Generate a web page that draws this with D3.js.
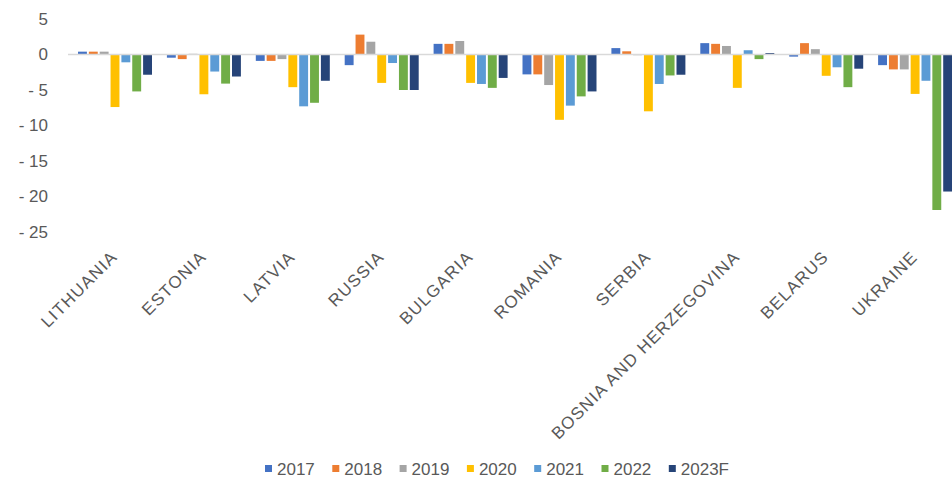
<!DOCTYPE html>
<html>
<head>
<meta charset="utf-8">
<script src="https://cdn.jsdelivr.net/npm/d3@7"></script>
<style>
  html, body { margin: 0; padding: 0; background: #fff; }
  svg { display: block; font-family: "Liberation Sans", Arial, sans-serif; }
</style>
</head>
<body>
<svg id="chart" width="952" height="479"></svg>
<script>
// Countries along the x axis
const countries = ["LITHUANIA", "ESTONIA", "LATVIA", "RUSSIA", "BULGARIA", "ROMANIA",
  "SERBIA", "BOSNIA AND HERZEGOVINA", "BELARUS", "UKRAINE"];

// Years in the legend
const years = ["2017", "2018", "2019", "2020", "2021", "2022", "2023F"];

// One value per country for each year
const v2017  = [0.4, -0.45, -0.9, -1.5, 1.5, -2.8, 0.9, 1.6, -0.3, -1.5];
const v2018  = [0.4, -0.65, -0.9, 2.8, 1.5, -2.8, 0.45, 1.5, 1.6, -2.1];
const v2019  = [0.4, 0.1, -0.65, 1.8, 1.9, -4.3, -0.1, 1.2, 0.75, -2.1];
const v2020  = [-7.4, -5.6, -4.6, -4.0, -4.0, -9.2, -8.0, -4.7, -3.0, -5.55];
const v2021  = [-1.1, -2.4, -7.3, -1.2, -4.15, -7.2, -4.15, 0.6, -1.8, -3.7];
const v2022  = [-5.2, -4.1, -6.8, -5.0, -4.7, -5.9, -2.95, -0.65, -4.6, -21.9];
const v2023F = [-2.85, -3.1, -3.7, -5.0, -3.3, -5.2, -2.85, 0.2, -2.0, -19.3];

const series = [v2017, v2018, v2019, v2020, v2021, v2022, v2023F];
const colors = ["#4472c4", "#ed7d31", "#a5a5a5", "#ffc000", "#5b9bd5", "#70ad47", "#264478"];

// Y axis tick values and their printed labels
const tickValues = [5, 0, -5, -10, -15, -20, -25];
const tickLabels = ["5", "0", "- 5", "- 10", "- 15", "- 20", "- 25"];

const svg = d3.select("#chart");
const textColor = "#595959";

const x0 = d3.scaleBand().domain(countries).range([70, 959]).paddingInner(0).paddingOuter(0);
const x1 = d3.scaleBand().domain(years).range([8, 82]).paddingInner(0.18);
const y = d3.scaleLinear().domain([-25, 5]).range([232, 19]);

// Y axis labels
const yAxis = d3.axisLeft(y).tickValues(tickValues)
  .tickFormat((d, i) => tickLabels[i]).tickSize(0).tickPadding(0);
const yg = svg.append("g").attr("transform", "translate(48,0)").call(yAxis);
yg.select(".domain").remove();
yg.selectAll("text").attr("fill", textColor).style("font-size", "17px")
  .style("font-family", "'Liberation Sans', Arial, sans-serif");

// Bars
const groups = svg.append("g").selectAll("g")
  .data(countries)
  .join("g")
  .attr("transform", d => `translate(${x0(d)},0)`);

groups.selectAll("rect")
  .data((c, ci) => years.map((yr, si) => ({ yr, si, v: series[si][ci] })))
  .join("rect")
  .attr("x", d => x1(d.yr))
  .attr("width", x1.bandwidth())
  .attr("y", d => Math.min(y(d.v), y(0)))
  .attr("height", d => Math.abs(y(d.v) - y(0)))
  .attr("fill", d => colors[d.si]);

// Zero line
svg.append("line")
  .attr("x1", 68).attr("x2", 952)
  .attr("y1", y(0)).attr("y2", y(0))
  .attr("stroke", "#d9d9d9").attr("stroke-width", 1.5);

// Category labels, rotated
svg.append("g").selectAll("text")
  .data(countries)
  .join("text")
  .attr("transform", d => `translate(${x0(d) + x0.bandwidth() / 2 + 4},${258}) rotate(-45)`)
  .attr("text-anchor", "end")
  .attr("fill", textColor)
  .style("font-size", "17px")
  .style("letter-spacing", "1.2px")
  .text(d => d);

// Legend
const legend = svg.append("g").attr("transform", "translate(265,0)");
const items = legend.selectAll("g")
  .data(years)
  .join("g")
  .attr("transform", (d, i) => `translate(${i * 67.3},0)`);
items.append("rect")
  .attr("x", 0).attr("y", 465).attr("width", 7).attr("height", 7)
  .attr("fill", (d, i) => colors[i]);
items.append("text")
  .attr("x", 12).attr("y", 475)
  .attr("fill", textColor)
  .style("font-size", "17px")
  .text(d => d);
</script>
</body>
</html>
